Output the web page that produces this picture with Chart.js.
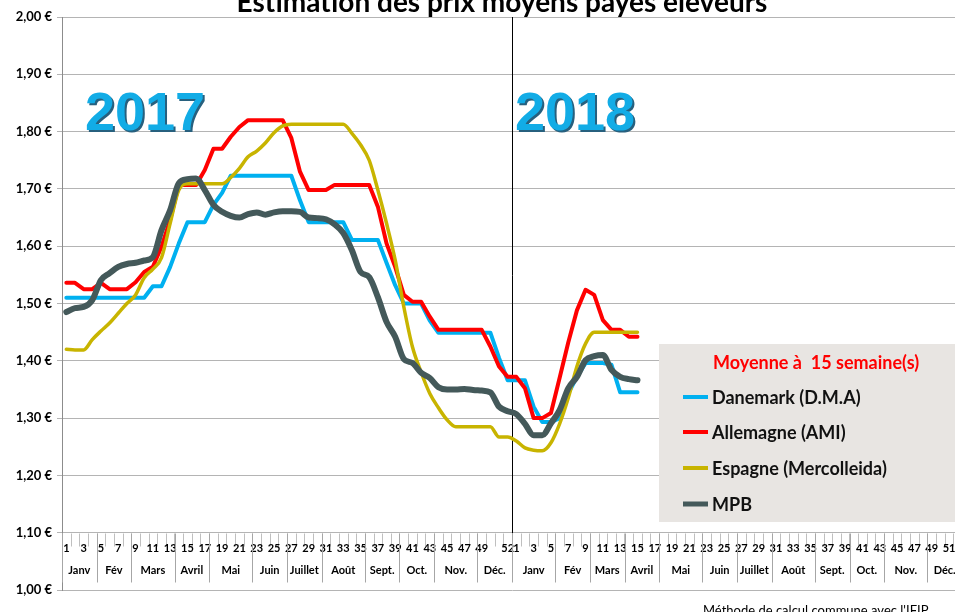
<!DOCTYPE html>
<html>
<head>
<meta charset="utf-8">
<script src="https://cdn.jsdelivr.net/npm/chart.js@4/dist/chart.umd.min.js"></script>
<style>
  html, body { margin: 0; padding: 0; background: #fff; overflow: hidden; }
  #wrap { width: 955px; height: 612px; overflow: hidden; }
  canvas { display: block; }
</style>
</head>
<body>
<div id="wrap"><canvas id="chart" width="972" height="612"></canvas></div>
<script>
// semaines 2017 puis 2018
const weekLabels = [
  '1','2','3','4','5','6','7','8','9','10','11','12','13','14','15','16','17','18','19','20','21','22','23','24','25','26',
  '27','28','29','30','31','32','33','34','35','36','37','38','39','40','41','42','43','44','45','46','47','48','49','50','51','52',
  '1','2','3','4','5','6','7','8','9','10','11','12','13','14','15','16','17','18','19','20','21','22','23','24','25','26',
  '27','28','29','30','31','32','33','34','35','36','37','38','39','40','41','42','43','44','45','46','47','48','49','50','51','52'
];
const monthNames = ['Janv', 'Fév', 'Mars', 'Avril', 'Mai', 'Juin', 'Juillet', 'Août', 'Sept.', 'Oct.', 'Nov.', 'Déc.'];
const monthLastWeek2017 = [4, 8, 13, 17, 22, 26, 30, 35, 39, 43, 48, 52];
const monthLastWeek2018 = [5, 9, 13, 17, 22, 26, 30, 35, 39, 43, 48, 52];
const yearLabels = ['2017', '2018'];

const seriesNames = ['Danemark (D.M.A)', 'Allemagne (AMI)', 'Espagne (Mercolleida)', 'MPB'];
const seriesColors = ['#00B0F0', '#FF0000', '#C8B400', '#44595A'];

const danemark2017 = [1.51, 1.51, 1.51, 1.51, 1.51, 1.51, 1.51, 1.51, 1.51, 1.51, 1.53, 1.53, 1.564, 1.605, 1.642, 1.642, 1.642, 1.672, 1.693,
  1.723, 1.723, 1.723, 1.723, 1.723, 1.723, 1.723, 1.723, 1.68, 1.642, 1.642, 1.642, 1.642, 1.642, 1.611, 1.611, 1.611, 1.611,
  1.571, 1.532, 1.50, 1.50, 1.50, 1.47, 1.449, 1.449, 1.449, 1.449, 1.449, 1.449, 1.449, 1.405, 1.366];
const danemark2018 = [1.366, 1.366, 1.32, 1.293, 1.293, 1.30, 1.343, 1.372, 1.396, 1.396, 1.396, 1.393, 1.345, 1.345, 1.345];

const allemagne2017 = [1.536, 1.536, 1.525, 1.525, 1.536, 1.525, 1.525, 1.525, 1.537, 1.555, 1.564, 1.599, 1.646, 1.707, 1.707, 1.707, 1.733,
  1.77, 1.77, 1.791, 1.808, 1.82, 1.82, 1.82, 1.82, 1.82, 1.789, 1.73, 1.698, 1.698, 1.698, 1.707, 1.707, 1.707, 1.707, 1.707,
  1.669, 1.605, 1.564, 1.515, 1.503, 1.503, 1.477, 1.454, 1.454, 1.454, 1.454, 1.454, 1.454, 1.425, 1.39, 1.372];
const allemagne2018 = [1.372, 1.352, 1.30, 1.30, 1.309, 1.37, 1.432, 1.488, 1.524, 1.515, 1.471, 1.454, 1.454, 1.442, 1.442];

const espagne2017 = [1.42, 1.419, 1.419, 1.437, 1.452, 1.466, 1.483, 1.50, 1.515, 1.545, 1.56, 1.58, 1.64, 1.698, 1.709, 1.709, 1.709,
  1.709, 1.709, 1.72, 1.736, 1.756, 1.766, 1.78, 1.798, 1.81, 1.813, 1.813, 1.813, 1.813, 1.813, 1.813, 1.813, 1.797, 1.777, 1.75,
  1.698, 1.64, 1.576, 1.494, 1.424, 1.38, 1.343, 1.318, 1.297, 1.285, 1.285, 1.285, 1.285, 1.285, 1.267, 1.267];
const espagne2018 = [1.26, 1.248, 1.244, 1.243, 1.257, 1.29, 1.335, 1.39, 1.43, 1.45, 1.45, 1.45, 1.45, 1.45, 1.45];

const mpb2017 = [1.485, 1.492, 1.494, 1.506, 1.541, 1.553, 1.564, 1.569, 1.571, 1.575, 1.581, 1.628, 1.663, 1.71, 1.717, 1.718, 1.698,
  1.672, 1.66, 1.653, 1.65, 1.656, 1.659, 1.655, 1.659, 1.661, 1.661, 1.66, 1.65, 1.649, 1.647, 1.638, 1.623, 1.593, 1.555, 1.546,
  1.511, 1.468, 1.442, 1.403, 1.396, 1.379, 1.37, 1.354, 1.35, 1.35, 1.351, 1.349, 1.348, 1.345, 1.32, 1.312];
const mpb2018 = [1.307, 1.29, 1.27, 1.27, 1.291, 1.314, 1.352, 1.372, 1.401, 1.408, 1.41, 1.384, 1.372, 1.368, 1.366];

const FONT = 'Lato, "Open Sans", "DejaVu Sans", sans-serif';

function weekLabelShown(i) {
  // 2017 : impairs jusqu'à 49 puis 52 ; 2018 : impairs
  if (i === 50) return false;
  if (i === 51) return true;
  return (Number(weekLabels[i]) % 2) === 1;
}

const decorPlugin = {
  id: 'decor',
  beforeDatasetsDraw(chart) {
    const { ctx, scales: { x, y } } = chart;
    const step = x.getPixelForValue(1) - x.getPixelForValue(0);
    const axisY = Math.round(y.getPixelForValue(1.1)) + 0.5;
    ctx.save();

    // ligne de séparation des années
    const sep = Math.round((x.getPixelForValue(51) + x.getPixelForValue(52)) / 2) + 0.5;
    ctx.strokeStyle = '#000';
    ctx.lineWidth = 1;
    ctx.beginPath();
    ctx.moveTo(sep, y.getPixelForValue(2));
    ctx.lineTo(sep, axisY);
    ctx.stroke();

    // graduations semaines
    ctx.strokeStyle = '#BFBFBF';
    for (let i = 0; i <= weekLabels.length; i++) {
      const bx = Math.round(x.getPixelForValue(0) - step / 2 + i * step) + 0.5;
      ctx.beginPath();
      ctx.moveTo(bx, axisY);
      ctx.lineTo(bx, axisY + 13);
      ctx.stroke();
    }
    ctx.fillStyle = '#000';
    ctx.font = 'bold 11px ' + FONT;
    ctx.textAlign = 'center';
    ctx.textBaseline = 'middle';
    weekLabels.forEach((lab, i) => {
      if (weekLabelShown(i)) ctx.fillText(lab, x.getPixelForValue(i), axisY + 15);
    });

    // mois
    [monthLastWeek2017, monthLastWeek2018].forEach((lasts, yr) => {
      const off = yr * 52;
      let first = 1;
      lasts.forEach((last, m) => {
        const x0 = x.getPixelForValue(off + first - 1) - step / 2;
        const x1 = x.getPixelForValue(off + last - 1) + step / 2;
        ctx.strokeStyle = '#A6A6A6';
        ctx.beginPath();
        ctx.moveTo(Math.round(x0) + 0.5, axisY);
        ctx.lineTo(Math.round(x0) + 0.5, axisY + 49);
        ctx.stroke();
        ctx.fillStyle = '#000';
        ctx.fillText(monthNames[m], (x0 + x1) / 2, axisY + 37);
        first = last + 1;
      });
    });

    // années
    ctx.font = 'bold 54px "Liberation Sans", Arial, sans-serif';
    ctx.textAlign = 'left';
    ctx.textBaseline = 'alphabetic';
    [[0, 85], [52, 515]].forEach(([idx, px], k) => {
      ctx.fillStyle = '#27607E';
      ctx.fillText(yearLabels[k], px + 2, 132);
      ctx.fillStyle = '#12ACE6';
      ctx.fillText(yearLabels[k], px, 130);
    });
    ctx.restore();
  },
  afterDatasetsDraw(chart) {
    const { ctx } = chart;
    ctx.save();
    // titre (coupé en haut)
    ctx.fillStyle = '#000';
    ctx.font = 'bold 28px ' + FONT;
    ctx.textAlign = 'center';
    ctx.textBaseline = 'alphabetic';
    ctx.fillText('Estimation des prix moyens payés éleveurs', 502, 12);

    // source
    ctx.font = '13px ' + FONT;
    ctx.textAlign = 'left';
    ctx.fillText("Méthode de calcul commune avec l'IFIP", 703, 615);

    // légende
    ctx.fillStyle = '#E8E5E2';
    ctx.fillRect(659, 344, 320, 178);
    ctx.font = 'bold 18px ' + FONT;
    ctx.fillStyle = '#FF0000';
    ctx.textBaseline = 'middle';
    ctx.fillText('Moyenne à  15 semaine(s)', 713, 363);
    const rows = [397, 432, 468, 504];
    seriesNames.forEach((name, i) => {
      ctx.strokeStyle = seriesColors[i];
      ctx.lineWidth = i === 3 ? 5 : 4;
      ctx.beginPath();
      ctx.moveTo(683, rows[i]);
      ctx.lineTo(708, rows[i]);
      ctx.stroke();
      ctx.fillStyle = '#111';
      ctx.fillText(name, 712, rows[i] + 1);
    });
    ctx.restore();
  }
};

const datasets = [
  { label: seriesNames[0], data: [...danemark2017, ...danemark2018], borderColor: seriesColors[0], borderWidth: 4, order: 3, tension: 0 },
  { label: seriesNames[1], data: [...allemagne2017, ...allemagne2018], borderColor: seriesColors[1], borderWidth: 4, order: 2, tension: 0 },
  { label: seriesNames[2], data: [...espagne2017, ...espagne2018], borderColor: seriesColors[2], borderWidth: 3.5, order: 1, cubicInterpolationMode: 'monotone' },
  { label: seriesNames[3], data: [...mpb2017, ...mpb2018], borderColor: seriesColors[3], borderWidth: 6, order: 0, cubicInterpolationMode: 'monotone' }
];

new Chart(document.getElementById('chart').getContext('2d'), {
  type: 'line',
  data: { labels: weekLabels, datasets },
  options: {
    responsive: false,
    animation: false,
    devicePixelRatio: 1,
    layout: { padding: { top: 17, right: 10, bottom: 22, left: 0 } },
    elements: { point: { radius: 0 }, line: { borderCapStyle: 'round', borderJoinStyle: 'round' } },
    plugins: { legend: { display: false }, title: { display: false }, tooltip: { enabled: false } },
    scales: {
      x: { type: 'category', offset: true, display: false },
      y: {
        min: 1, max: 2,
        afterFit: (s) => { s.width = 62; },
        ticks: {
          stepSize: 0.1,
          padding: 5,
          color: '#000',
          font: { family: FONT, size: 13, weight: 'bold' },
          callback: (v) => v.toFixed(2).replace('.', ',') + ' €'
        },
        grid: { color: '#B4B4B4', tickLength: 5 },
        border: { color: '#8C8C8C' }
      }
    }
  },
  plugins: [decorPlugin]
});
</script>
</body>
</html>
